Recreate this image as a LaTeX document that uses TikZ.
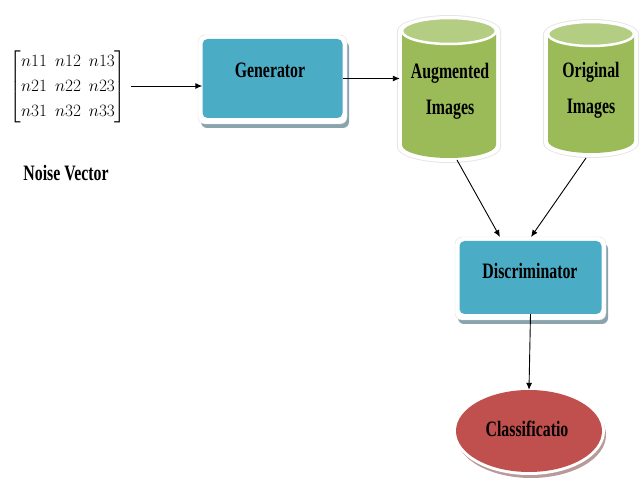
\documentclass[tikz,border=0pt]{standalone}
\usepackage{amsmath}
\usepackage{fontspec}
\setmainfont{Liberation Serif}[FakeStretch=0.72]
\usetikzlibrary{arrows.meta,shapes.geometric}
\definecolor{boxblue}{HTML}{4BACC6}
\definecolor{cylgreen}{HTML}{9BBB59}
\definecolor{cyltop}{HTML}{B3CD82}
\definecolor{ellred}{HTML}{C0504D}
\definecolor{shblue}{HTML}{8AA4AE}
\definecolor{shred}{HTML}{B89A9A}
\tikzset{
  lbl/.style={font=\bfseries\fontsize{22}{24}\selectfont, align=center, inner sep=0pt},
  conn/.style={-{Latex[length=7pt,width=6pt]}, line width=0.9pt},
}
\newcommand{\procbox}[5]{% name, x1,y1,x2,y2 (outer)
  \fill[shblue,rounded corners=6pt] (#2+3,#3+6) rectangle (#4+2,#5+4);
  \fill[white,draw=black!12,rounded corners=7pt] (#2,#3) rectangle (#4,#5);
  \node[fill=boxblue,rounded corners=5pt,inner sep=0pt,minimum width=#4-#2-9pt,minimum height=#5-#3-10pt] (#1) at ({(#2+#4)/2},{(#3+#5)/2-1}) {};
}
\newcommand{\cyl}[6]{% name, xl, xr, ytop, ybot, ry
  \fill[black!10] (#2-3,#4) -- (#2-3,#5) arc[start angle=180,end angle=0,x radius={(#3-#2)/2+3},y radius=#6+3] -- (#3+3,#4) arc[start angle=0,end angle=-180,x radius={(#3-#2)/2+3},y radius=#6+3] -- cycle;
  \fill[white] (#2-2,#4) -- (#2-2,#5) arc[start angle=180,end angle=0,x radius={(#3-#2)/2+2},y radius=#6+2] -- (#3+2,#4) arc[start angle=0,end angle=-180,x radius={(#3-#2)/2+2},y radius=#6+2] -- cycle;
  \fill[cylgreen] (#2+2,#4) -- (#2+2,#5-2) arc[start angle=180,end angle=0,x radius={(#3-#2)/2-2},y radius=#6] -- (#3-2,#4) -- cycle;
  \fill[cyltop,draw=white,line width=2.5pt] ({(#2+#3)/2},#4) ellipse[x radius={(#3-#2)/2-2},y radius=#6];
  \node[inner sep=0pt,minimum width=#3-#2,minimum height=#5-#4+2*#6] (#1) at ({(#2+#3)/2},{(#4+#5)/2}) {};
}
\begin{document}
\begin{tikzpicture}[x=1pt,y=-1pt]
\useasboundingbox (0,0) rectangle (641,489);
% noise vector
\node[inner sep=0pt,font=\fontsize{18}{20}\selectfont] (mat) at (68,87)
  {$\renewcommand{\arraystretch}{1.25}\setlength{\arraycolsep}{4pt}\begin{bmatrix} n11 & n12 & n13\\ n21 & n22 & n23\\ n31 & n32 & n33\end{bmatrix}$};
\node[lbl,font=\bfseries\fontsize{22}{24}\selectfont] (nv) at (66,173) {Noise Vector};
% generator
\procbox{gen}{198}{35}{347}{124}
\node[lbl] (gentxt) at (270,70) {Generator};
% cylinders
\cyl{aug}{400}{498}{31}{147}{13}
\node[lbl,align=center,font=\bfseries\fontsize{22}{36}\selectfont] (augtxt) at (450,91) {Augmented\\Images};
\cyl{orig}{546}{636}{34}{143}{12}
\node[lbl,align=center,font=\bfseries\fontsize{22}{36}\selectfont] (origtxt) at (591,90) {Original\\Images};
% discriminator
\procbox{disc}{455}{237}{606}{320}
\node[lbl] (disctxt) at (530,271) {Discriminator};
% classification ellipse
\fill[shred] (531,435) ellipse[x radius=75,y radius=43];
\fill[white] (529,431) ellipse[x radius=76,y radius=44];
\node[ellipse,fill=ellred,minimum width=146pt,minimum height=82pt,inner sep=0pt] (cls) at (529,431) {};
\node[lbl] (clstxt) at (527,429) {Classificatio};
% connectors
\coordinate (ma) at (131,86);
\draw[conn] (ma) -- (ma -| gen.west);
\draw[conn] (gen.east) -- (aug.west |- gen.east);
\coordinate (ab) at (457,160);
\coordinate (ob) at (586,158);
\coordinate (d1) at (500,237);
\coordinate (d2) at (531,237);
\draw[conn] (ab) -- (d1);
\draw[conn] (ob) -- (d2);
\draw[conn] (disc.south) -- (cls.north);
\end{tikzpicture}
\end{document}
